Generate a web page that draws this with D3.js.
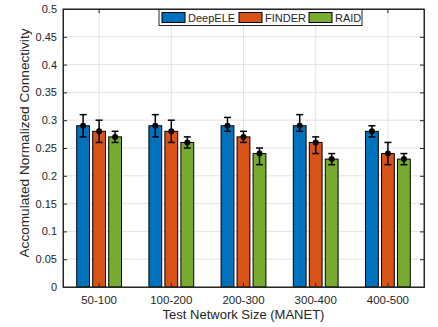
<!DOCTYPE html>
<html>
<head>
<meta charset="utf-8">
<script src="https://cdn.jsdelivr.net/npm/d3@7"></script>
<style>
  body { margin: 0; background: #fff; }
  text { font-family: "Liberation Sans", Arial, Helvetica, sans-serif; fill: #262626; }
</style>
</head>
<body>
<div class="chart"></div>
<script>
var svgWidth = 438;
var svgHeight = 327;

var margin = { top: 9, right: 14, bottom: 40, left: 63 };
var width = svgWidth - margin.left - margin.right;
var height = svgHeight - margin.top - margin.bottom;

// data
var categories = ["50-100", "100-200", "200-300", "300-400", "400-500"];
var seriesNames = ["DeepELE", "FINDER", "RAID"];
var colors = ["#0072BD", "#D95319", "#77AC30"];

var deepELE = [0.29, 0.29, 0.29, 0.29, 0.28];
var finder = [0.28, 0.28, 0.27, 0.26, 0.24];
var raid = [0.27, 0.26, 0.24, 0.23, 0.23];

var deepELELow = [0.02, 0.02, 0.01, 0.01, 0.01];
var deepELEHigh = [0.02, 0.02, 0.015, 0.02, 0.01];
var finderLow = [0.02, 0.02, 0.01, 0.02, 0.02];
var finderHigh = [0.02, 0.02, 0.01, 0.01, 0.02];
var raidLow = [0.01, 0.01, 0.02, 0.01, 0.01];
var raidHigh = [0.01, 0.01, 0.01, 0.01, 0.01];

var yTicks = [0, 0.05, 0.1, 0.15, 0.2, 0.25, 0.3, 0.35, 0.4, 0.45, 0.5];

var values = [deepELE, finder, raid];
var lows = [deepELELow, finderLow, raidLow];
var highs = [deepELEHigh, finderHigh, raidHigh];

var rows = [];
categories.forEach(function(c, i) {
  seriesNames.forEach(function(s, j) {
    rows.push({ cat: c, series: s, idx: j, value: values[j][i], lo: values[j][i] - lows[j][i], hi: values[j][i] + highs[j][i] });
  });
});

var svg = d3.select(".chart")
  .append("svg")
  .attr("width", svgWidth)
  .attr("height", svgHeight);

var chartGroup = svg.append("g")
  .attr("transform", `translate(${margin.left}, ${margin.top})`);

var x0 = d3.scaleBand().domain(categories).range([0, width]);
var x1 = d3.scaleBand().domain(seriesNames).range([-24, 24]).paddingInner(0.2).paddingOuter(0.1);
var y = d3.scaleLinear().domain([0, 0.5]).range([height, 0]);

var cx = d => x0(d) + x0.bandwidth() / 2;

// grid
chartGroup.append("g")
  .selectAll("line.hgrid")
  .data(yTicks)
  .enter()
  .append("line")
  .attr("x1", 0).attr("x2", width)
  .attr("y1", d => y(d)).attr("y2", d => y(d))
  .attr("stroke", "#e3e3e3").attr("stroke-width", 1);

chartGroup.append("g")
  .selectAll("line.vgrid")
  .data(categories)
  .enter()
  .append("line")
  .attr("x1", d => cx(d)).attr("x2", d => cx(d))
  .attr("y1", 0).attr("y2", height)
  .attr("stroke", "#e3e3e3").attr("stroke-width", 1);

// bars
chartGroup.append("g")
  .selectAll("rect")
  .data(rows)
  .enter()
  .append("rect")
  .attr("x", d => cx(d.cat) + x1(d.series))
  .attr("y", d => y(d.value))
  .attr("width", x1.bandwidth())
  .attr("height", d => height - y(d.value))
  .attr("fill", d => colors[d.idx])
  .attr("stroke", "#000")
  .attr("stroke-width", 1);

// error bars
var eb = chartGroup.append("g")
  .selectAll("g")
  .data(rows)
  .enter()
  .append("g")
  .attr("transform", d => `translate(${cx(d.cat) + x1(d.series) + x1.bandwidth() / 2}, 0)`);

eb.append("line")
  .attr("x1", 0).attr("x2", 0)
  .attr("y1", d => y(d.lo)).attr("y2", d => y(d.hi))
  .attr("stroke", "#000").attr("stroke-width", 1.5);
eb.append("line")
  .attr("x1", -3.5).attr("x2", 3.5)
  .attr("y1", d => y(d.lo)).attr("y2", d => y(d.lo))
  .attr("stroke", "#000").attr("stroke-width", 1.5);
eb.append("line")
  .attr("x1", -3.5).attr("x2", 3.5)
  .attr("y1", d => y(d.hi)).attr("y2", d => y(d.hi))
  .attr("stroke", "#000").attr("stroke-width", 1.5);
eb.append("circle")
  .attr("cx", 0)
  .attr("cy", d => y(d.value))
  .attr("r", 3)
  .attr("fill", "#000");

// axes
var leftAxis = d3.axisLeft(y).tickValues(yTicks).tickSize(-4).tickPadding(6)
  .tickFormat(d => d3.format("")(+d.toFixed(2)));
var rightAxis = d3.axisRight(y).tickValues(yTicks).tickSize(-4).tickFormat("");
var bottomAxis = d3.axisBottom(x0).tickSize(-4).tickPadding(9);
var topAxis = d3.axisTop(x0).tickSize(-4).tickFormat("");

var ga = chartGroup.append("g").call(leftAxis);
chartGroup.append("g").attr("transform", `translate(${width},0)`).call(rightAxis);
var gb = chartGroup.append("g").attr("transform", `translate(0,${height})`).call(bottomAxis);
chartGroup.append("g").call(topAxis);

chartGroup.selectAll(".domain").attr("stroke", "#262626");
chartGroup.selectAll(".tick line").attr("stroke", "#262626");
ga.selectAll("text").style("font-size", "11px").attr("fill", "#262626");
gb.selectAll("text").style("font-size", "11.5px").attr("fill", "#262626");

// box
chartGroup.append("rect")
  .attr("width", width).attr("height", height)
  .attr("fill", "none").attr("stroke", "#262626").attr("stroke-width", 1);

// axis titles
chartGroup.append("text")
  .attr("x", width / 2)
  .attr("y", height + 32)
  .attr("text-anchor", "middle")
  .style("font-size", "13px")
  .text("Test Network Size (MANET)");

chartGroup.append("text")
  .attr("transform", "rotate(-90)")
  .attr("x", -height / 2 + 5)
  .attr("y", -34)
  .attr("text-anchor", "middle")
  .style("font-size", "13.6px")
  .text("Accomulated Normalized Connectivity");

// legend
var legend = chartGroup.append("g").attr("transform", "translate(96, 0.5)");
legend.append("rect")
  .attr("width", 203).attr("height", 16)
  .attr("fill", "#fff").attr("stroke", "#262626").attr("stroke-width", 1);
var legendX = [3, 80, 150];
var entries = legend.selectAll("g.entry")
  .data(seriesNames)
  .enter()
  .append("g")
  .attr("transform", (d, i) => `translate(${legendX[i]}, 3)`);
entries.append("rect")
  .attr("width", 23).attr("height", 10)
  .attr("fill", (d, i) => colors[i])
  .attr("stroke", "#000").attr("stroke-width", 1);
entries.append("text")
  .attr("x", 26).attr("y", 9.5)
  .style("font-size", "11px")
  .text(d => d);
</script>
</body>
</html>
